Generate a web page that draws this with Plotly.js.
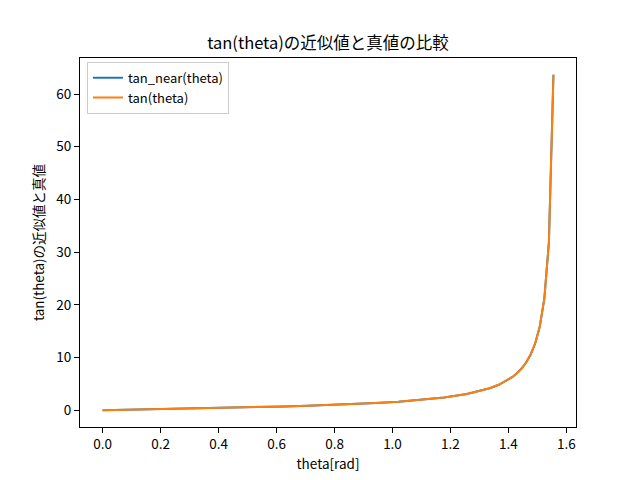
<!DOCTYPE html>
<html>
<head>
<meta charset="utf-8">
<script src="https://cdn.plot.ly/plotly-3.0.1.min.js"></script>
<style>
  html, body { margin: 0; padding: 0; background: #fff; }
  #myDiv { width: 640px; height: 480px; }
</style>
</head>
<body>
<div id="myDiv"></div>
<script>
/**************************************************************/
// values
var theta = [0.0000, 0.0785, 0.1571, 0.2356, 0.3142, 0.3927, 0.4712, 0.5498,
             0.6283, 0.7069, 0.7854, 0.8639, 0.9425, 1.0210, 1.0996, 1.1781,
             1.2566, 1.3038, 1.3352, 1.3666, 1.3980, 1.4137, 1.4294, 1.4451,
             1.4608, 1.4765, 1.4923, 1.5080, 1.5237, 1.5394, 1.5551];

var tan_near = [0.000, 0.079, 0.158, 0.240, 0.325, 0.414, 0.510, 0.613,
                0.727, 0.854, 1.000, 1.171, 1.376, 1.632, 1.963, 2.414,
                3.078, 3.652, 4.165, 4.829, 5.730, 6.314, 7.026, 7.916,
                9.058, 10.58, 12.71, 15.89, 21.20, 31.82, 63.66];

var tan_true = [0.000, 0.079, 0.158, 0.240, 0.325, 0.414, 0.510, 0.613,
                0.727, 0.854, 1.000, 1.171, 1.376, 1.632, 1.963, 2.414,
                3.078, 3.652, 4.165, 4.829, 5.730, 6.314, 7.026, 7.916,
                9.058, 10.58, 12.71, 15.89, 21.20, 31.82, 63.66];

var series_names = ["tan_near(theta)", "tan(theta)"];
var series_colors = ["#1f77b4", "#ff7f0e"];

var jpFont = "'Noto Sans CJK JP', 'DejaVu Sans', sans-serif";

/**************************************************************/
function makeTraces() {
  var ys = [tan_near, tan_true];
  var ret = [];
  for (var i = 0; i < ys.length; i++) {
    ret.push({
      x: theta,
      y: ys[i],
      name: series_names[i],
      mode: "lines",
      type: "scatter",
      line: { color: series_colors[i], width: 2 }
    });
  }
  return ret;
}

function getLayout() {
  var axisCommon = {
    showline: true,
    mirror: true,
    linecolor: "black",
    linewidth: 1,
    ticks: "outside",
    ticklen: 5,
    tickwidth: 1,
    tickcolor: "black",
    showgrid: false,
    zeroline: false,
    tickfont: { family: jpFont, size: 13.5, color: "black" }
  };

  var xaxis = Object.assign({}, axisCommon, {
    range: [-0.0778, 1.6329],
    dtick: 0.2,
    tick0: 0,
    tickformat: ".1f",
    title: { text: "theta[rad]", font: { family: jpFont, size: 13.5, color: "black" }, standoff: 3 }
  });

  var yaxis = Object.assign({}, axisCommon, {
    range: [-3.18, 66.84],
    dtick: 10,
    tick0: 0,
    title: { text: "tan(theta)の近似値と真値", font: { family: jpFont, size: 13.5, color: "black" }, standoff: 8 }
  });

  return {
    width: 640,
    height: 480,
    margin: { l: 80, r: 64, t: 57.6, b: 52.8 },
    paper_bgcolor: "white",
    plot_bgcolor: "white",
    title: {
      text: "tan(theta)の近似値と真値の比較",
      font: { family: jpFont, size: 16.5, color: "black" },
      x: 0.5,
      xref: "paper",
      xanchor: "center",
      y: 1,
      yref: "paper",
      yanchor: "bottom",
      pad: { b: 9 }
    },
    xaxis: xaxis,
    yaxis: yaxis,
    showlegend: true,
    legend: {
      x: 0.014,
      y: 0.99,
      xanchor: "left",
      yanchor: "top",
      bgcolor: "rgba(255,255,255,0.8)",
      bordercolor: "#cccccc",
      borderwidth: 1,
      font: { family: jpFont, size: 13, color: "black" },
      tracegroupgap: 0
    }
  };
}

Plotly.newPlot("myDiv", makeTraces(), getLayout(), { displayModeBar: false, staticPlot: true });
</script>
</body>
</html>
